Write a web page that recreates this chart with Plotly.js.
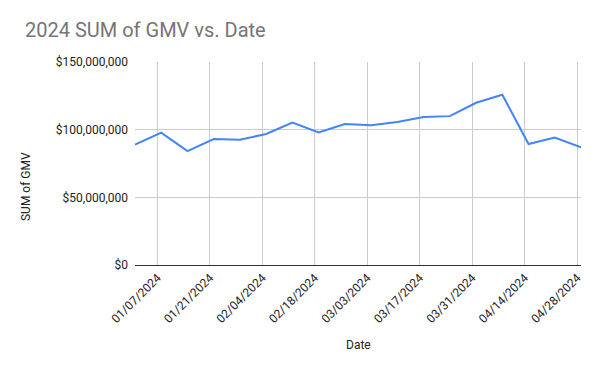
<!DOCTYPE html>
<html>
<head>
<meta charset="utf-8">
<script src="https://cdn.plot.ly/plotly-3.0.1.min.js"></script>
<style>html,body{margin:0;padding:0;background:#fff;}#chart{width:600px;height:371px;}</style>
</head>
<body>
<div id="chart"></div>
<script>
const dates = ["2024-01-01","2024-01-08","2024-01-15","2024-01-22","2024-01-29","2024-02-05","2024-02-12","2024-02-19","2024-02-26","2024-03-04","2024-03-11","2024-03-18","2024-03-25","2024-04-01","2024-04-08","2024-04-15","2024-04-22","2024-04-29"];
const gmv = [88900000,97800000,84200000,93100000,92600000,96800000,105200000,98000000,104100000,103200000,105600000,109300000,110000000,119900000,125800000,89400000,94100000,86900000];
const tickDates = ["2024-01-07","2024-01-21","2024-02-04","2024-02-18","2024-03-03","2024-03-17","2024-03-31","2024-04-14","2024-04-28"];
const tickLabels = ["01/07/2024","01/21/2024","02/04/2024","02/18/2024","03/03/2024","03/17/2024","03/31/2024","04/14/2024","04/28/2024"];
const yTicks = [0,50000000,100000000,150000000];
const yLabels = ["$0","$50,000,000","$100,000,000","$150,000,000"];

const font = "Roboto, Arial, sans-serif";
Plotly.newPlot("chart", [{
  x: dates, y: gmv, type: "scatter", mode: "lines",
  line: {color: "#4285F4", width: 2},
  hoverinfo: "skip"
}], {
  width: 600, height: 371,
  margin: {l: 135, r: 19, t: 62, b: 106, pad: 0},
  paper_bgcolor: "#fff", plot_bgcolor: "#fff",
  font: {family: font, size: 12, color: "#222"},
  showlegend: false,
  title: {text: "2024 SUM of GMV vs. Date", font: {family: font, size: 20, color: "#757575"},
          xref: "container", yref: "container", x: 25/600, xanchor: "left", y: 1 - 30/371, yanchor: "middle"},
  xaxis: {
    type: "date", range: ["2024-01-01","2024-04-29"],
    tickvals: tickDates, ticktext: tickLabels, tickangle: -45,
    showgrid: true, gridcolor: "#cccccc", gridwidth: 1,
    showline: true, linecolor: "#333333", linewidth: 1,
    ticks: "", tickfont: {family: font, size: 12, color: "#222"},
    zeroline: false
  },
  yaxis: {
    range: [0, 150000000], tickvals: yTicks, ticktext: yLabels,
    showgrid: true, gridcolor: "#cccccc", gridwidth: 1,
    zeroline: true, zerolinecolor: "#333333", zerolinewidth: 1,
    showline: false, ticks: "", ticklabelstandoff: 6,
    tickfont: {family: font, size: 12, color: "#222"}
  },
  annotations: [
    {text: "SUM of GMV", xref: "paper", yref: "paper", x: (26-135)/446, y: (265-187)/203,
     xanchor: "center", yanchor: "middle", textangle: -90, showarrow: false,
     font: {family: font, size: 12, color: "#222"}},
    {text: "Date", xref: "paper", yref: "paper", x: 0.5, y: (265-345)/203,
     xanchor: "center", yanchor: "middle", showarrow: false,
     font: {family: font, size: 12, color: "#222"}}
  ]
}, {displayModeBar: false, staticPlot: true});
</script>
</body>
</html>
